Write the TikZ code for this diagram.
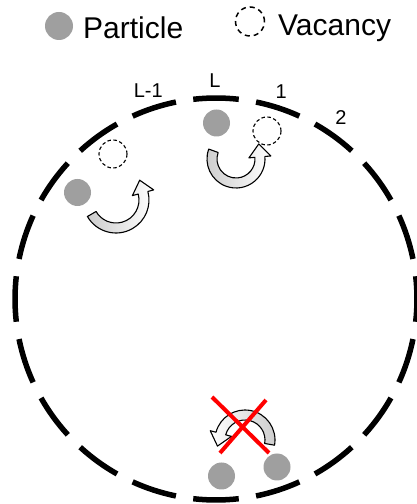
\documentclass[tikz,border=0pt]{standalone}
\usepackage{fontspec}
\setmainfont{Liberation Sans}
\usetikzlibrary{positioning}

% hollow curved hop arrow: [shading] centre, radius, start angle, end angle
\newcommand{\hoparrow}[5][]{%
  \path[hop,#1] ([shift={(#4:#3+5)}]#2) arc[start angle=#4, end angle=#5, radius=#3+5]
    -- ([shift={(#5:#3+11)}]#2) -- ([shift={(#5:#3)}, shift={(#5+90:13)}]#2)
    -- ([shift={(#5:#3-11)}]#2) -- ([shift={(#5:#3-5)}]#2)
    arc[start angle=#5, end angle=#4, radius=#3-5] -- cycle;}

\begin{document}
\begin{tikzpicture}[x=1pt, y=1pt,
    particle/.style={circle, fill=gray!75, minimum size=27pt, inner sep=0pt},
    vacancy/.style={circle, draw, line width=1.1pt, dash pattern=on 3.5pt off 2.5pt, minimum size=28pt, inner sep=0pt},
    site/.style={font=\fontsize{20}{24}\selectfont, inner sep=0pt},
    legend/.style={font=\fontsize{30}{36}\selectfont, anchor=base west, inner sep=0pt},
    hop/.style={draw=black, line width=1.1pt, line join=round},
    ring/.style={line width=5.5pt},
    forbid/.style={red, line width=4pt}
]
\useasboundingbox (0,0) rectangle (416,504);

% legend
\node[particle, minimum size=28pt] (lp) at (59,478) {};
\node[legend] (lptext) at (83,465) {Particle};
\node[vacancy, minimum size=29pt, line width=1.5pt, dash pattern=on 5pt off 4pt] (lv) at (250,482.5) {};
\node[legend] (lvtext) at (278,468) {Vacancy};

% lattice ring
\coordinate (c) at (216,205);
\foreach \k in {0,...,19}
  \draw[ring] ([shift={(\k*18-6.5:201)}]c) arc[start angle=\k*18-6.5, end angle=\k*18+6.5, radius=201];

\node[site] (sLm1) at ([shift={(108:219)}]c) {L-1};
\node[site] (sL) at ([shift={(90.3:218)}]c) {L};
\node[site] (s1) at ([shift={(72.5:217)}]c) {1};
\node[site] (s2) at ([shift={(55.4:220)}]c) {2};

% particles and vacancies
\node[particle] (pL) at (216.5,381) {};
\node[vacancy] (v1) at (267,373) {};
\node[vacancy] (vLm1) at (113,350) {};
\node[particle] (pLm2) at (77.5,311.5) {};
\node[particle] (pa) at (221.5,28) {};
\node[particle] (pb) at (277,37) {};

% hops
\coordinate (hopR) at (236,345);
\coordinate (hopL) at (116,304);
\coordinate (hopB) at (245,64);
\hoparrow[left color=gray!40, right color=white]{hopR}{24}{160}{365}
\hoparrow[left color=gray!40, right color=white]{hopL}{28}{210}{375}
\hoparrow[left color=white, right color=gray!40]{hopB}{25}{-10}{165}

% blocked hop
\coordinate (x1) at (212,107);
\coordinate (x2) at (269,51);
\coordinate (x3) at (266,104);
\coordinate (x4) at (220,51);
\draw[forbid] (x1) -- (x2);
\draw[forbid] (x3) -- (x4);
\end{tikzpicture}
\end{document}
